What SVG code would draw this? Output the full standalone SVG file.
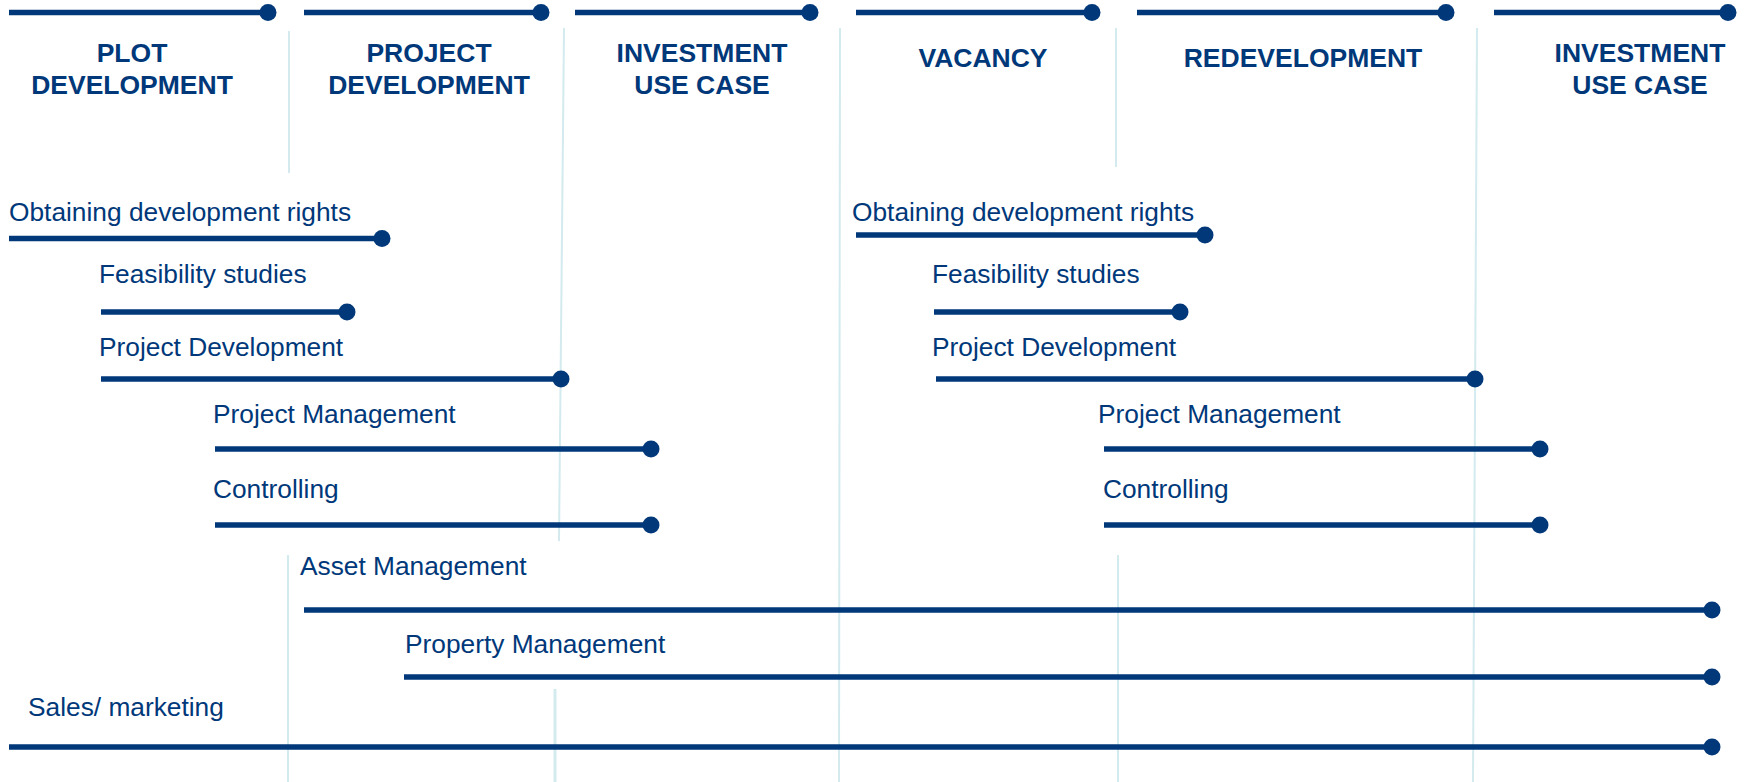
<svg xmlns="http://www.w3.org/2000/svg" width="1748" height="782" viewBox="0 0 1748 782">
<style>
.bar{stroke:#00387a;stroke-width:5.5;fill:none;marker-end:url(#dot)}
.sep{stroke:#d3eaee;stroke-width:2;fill:none}
.hd{font-family:"Liberation Sans",Arial,sans-serif;font-weight:bold;font-size:26.5px;fill:#00387a;text-anchor:middle}
.lb{font-family:"Liberation Sans",Arial,sans-serif;font-size:26.3px;fill:#00387a}
</style>
<defs>
<marker id="dot" markerUnits="userSpaceOnUse" markerWidth="20" markerHeight="20" refX="10" refY="10" viewBox="0 0 20 20"><circle cx="10" cy="10" r="8.5" fill="#00387a"/></marker>
</defs>
<rect width="1748" height="782" fill="#ffffff"/>
<g id="separators">
<path class="sep" d="M289 31V173M288 555V782"/>
<path class="sep" d="M564 28L559 541"/>
<path class="sep" d="M555 689V782" style="stroke-width:3"/>
<path class="sep" d="M840 28L839 782"/>
<path class="sep" d="M1116 28V167M1118 555V782"/>
<path class="sep" d="M1477 28L1473 782"/>
</g>
<g id="phases">
<g id="phase-plot"><path class="bar" d="M9 12.5H268"/><text class="hd" x="132" y="62">PLOT</text><text class="hd" x="132" y="94">DEVELOPMENT</text></g>
<g id="phase-project"><path class="bar" d="M304 12.5H541"/><text class="hd" x="429" y="62">PROJECT</text><text class="hd" x="429" y="94">DEVELOPMENT</text></g>
<g id="phase-investment1"><path class="bar" d="M575 12.5H810"/><text class="hd" x="702" y="62">INVESTMENT</text><text class="hd" x="702" y="94">USE CASE</text></g>
<g id="phase-vacancy"><path class="bar" d="M856 12.5H1092"/><text class="hd" x="983" y="67">VACANCY</text></g>
<g id="phase-redevelopment"><path class="bar" d="M1137 12.5H1446"/><text class="hd" x="1303" y="67">REDEVELOPMENT</text></g>
<g id="phase-investment2"><path class="bar" d="M1494 12.5H1728"/><text class="hd" x="1640" y="62">INVESTMENT</text><text class="hd" x="1640" y="94">USE CASE</text></g>
</g>
<g id="tasks">
<g id="odr-1"><text class="lb" x="9" y="221">Obtaining development rights</text><path class="bar" d="M9 238.5H382"/></g>
<g id="fs-1"><text class="lb" x="99" y="283">Feasibility studies</text><path class="bar" d="M101 312H347"/></g>
<g id="pd-1"><text class="lb" x="99" y="356">Project Development</text><path class="bar" d="M101 379H561"/></g>
<g id="pm-1"><text class="lb" x="213" y="423">Project Management</text><path class="bar" d="M215 449H651"/></g>
<g id="ctrl-1"><text class="lb" x="213" y="498">Controlling</text><path class="bar" d="M215 525H651"/></g>
<g id="odr-2"><text class="lb" x="852" y="221">Obtaining development rights</text><path class="bar" d="M856 235H1205"/></g>
<g id="fs-2"><text class="lb" x="932" y="283">Feasibility studies</text><path class="bar" d="M934 312H1180"/></g>
<g id="pd-2"><text class="lb" x="932" y="356">Project Development</text><path class="bar" d="M936 379H1475"/></g>
<g id="pm-2"><text class="lb" x="1098" y="423">Project Management</text><path class="bar" d="M1104 449H1540"/></g>
<g id="ctrl-2"><text class="lb" x="1103" y="498">Controlling</text><path class="bar" d="M1104 525H1540"/></g>
<g id="asset"><text class="lb" x="300" y="575">Asset Management</text><path class="bar" d="M304 610H1712"/></g>
<g id="property"><text class="lb" x="405" y="653">Property Management</text><path class="bar" d="M404 677H1712"/></g>
<g id="sales"><text class="lb" x="28" y="716">Sales/ marketing</text><path class="bar" d="M9 747H1712"/></g>
</g>
</svg>
